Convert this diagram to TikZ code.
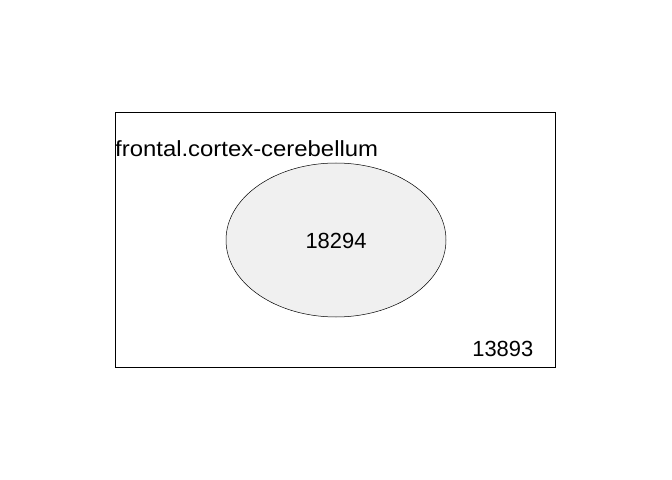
\documentclass[tikz,border=0pt]{standalone}
\usepackage{fontspec}
\usepackage{graphicx}
\setmainfont{Liberation Sans}
\usetikzlibrary{positioning}

\begin{document}
\begin{tikzpicture}[x=1bp, y=-1bp,
    label/.style={inner sep=0pt, font=\fontsize{22}{26}\selectfont},
    universe/.style={draw=black, line width=0.75bp},
    setcircle/.style={draw=black, line width=0.5bp, fill={rgb,255:red,240;green,240;blue,240}}
]
    \useasboundingbox (0,0) rectangle (672,480);
    \def\cx{336}
    \def\cy{240}
    \draw[universe] (115,112) rectangle (555,367);
    \draw[setcircle] (\cx,\cy) ellipse [x radius=110, y radius=77];
    \node[label, anchor=base west] (title) at (115,157) {\scalebox{1.09}[1]{frontal.cortex-cerebellum}};
    \node[label, anchor=base] (inside) at (\cx,248.5) {18294};
    \node[label, anchor=base east] (outside) at (533.5,356.5) {13893};
\end{tikzpicture}
\end{document}
